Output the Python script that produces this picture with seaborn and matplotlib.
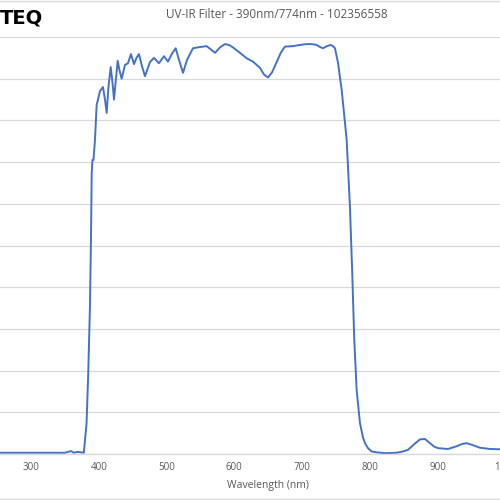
import matplotlib
matplotlib.use("Agg")
import matplotlib.pyplot as plt
import seaborn as sns
import pandas as pd

# transmission curve
wavelength = [200, 254, 313, 350, 359, 363, 369, 374, 378, 382, 384.5, 387, 388.5, 389.6,
              390.7, 392.2, 394.4, 396.9, 401.8, 406.2, 409.2, 411.7, 414.3, 417.6, 420.3,
              422.5, 425.4, 427.9, 430.6, 433.8, 438.7, 443.1, 447.5, 452, 455.7, 459.3,
              463.8, 468.2, 475.6, 481.5, 488.8, 496.2, 502.1, 508, 513.5, 518.4, 524.3,
              530.2, 539, 549.3, 559.2, 565.6, 571.5, 578.8, 586.2, 592.1, 598, 608.4,
              618.2, 627.5, 637.9, 643.8, 649.7, 655.6, 662.5, 668.8, 674.7, 686.5, 696.9,
              706.8, 714.6, 721.5, 726.4, 730.8, 736.7, 742.2, 745.6, 748.5, 753, 758.4,
              763.3, 765.8, 770.6, 774, 777, 780.5, 785.4, 789.8, 792.8, 797.2, 802.7, 810,
              822.3, 839.5, 848.8, 856.2, 866.5, 873.9, 881.3, 888.7, 894.6, 900.5, 915.2,
              927, 935.9, 942.8, 950.6, 962.4, 977.2, 999.3, 1050, 1100]
transmission = [0.3, 0.3, 0.3, 0.3, 0.7, 0.3, 0.5, 0.4, 0.3, 7.4, 19.4, 35.3, 51.3, 67.4,
                70.5, 70.5, 75.3, 83.7, 87, 88, 85, 81.8, 88, 92.8, 89,
                85, 90, 94.3, 92, 90, 93.3, 93.7, 95.9, 93.5, 95, 95.9,
                93, 90.6, 94, 95, 93.7, 95.4, 94.1, 96, 97.3, 94.5, 91.4,
                94.5, 97.3, 97.6, 97.8, 97, 96.2, 97.5, 98.3, 98.1, 97.5, 96.2,
                94.9, 94.1, 92.6, 91, 90.3, 91.5, 94, 96.3, 97.7, 97.8, 98.1,
                98.3, 98.3, 98.1, 97.6, 97.3, 97.8, 98.1, 97.8, 97.3, 93.8, 87.3,
                79.4, 75.3, 59.3, 43.4, 27.3, 15.3, 7.4, 4, 2.6, 1.4, 0.6, 0.4,
                0.2, 0.3, 0.6, 1, 2.5, 3.5, 3.6, 2.6, 1.8, 1.4, 1.2,
                1.8, 2.4, 2.6, 2.2, 1.5, 1.2, 1.1, 1.0, 1.0]
x_ticks = [300, 400, 500, 600, 700, 800, 900, 1000]
y_ticks = [0, 10, 20, 30, 40, 50, 60, 70, 80, 90, 100]
title = "UV-IR Filter - 390nm/774nm - 102356558"

df = pd.DataFrame({"Wavelength": wavelength, "Transmission": transmission})

sns.set_style("white")
plt.rcParams["font.family"] = ["Open Sans", "DejaVu Sans"]

fig = plt.figure(figsize=(5, 5), dpi=100)
# chart is cropped: the plot area runs past both sides of the picture
ax = fig.add_axes([-0.0736, 0.092, 1.22, 0.834])

sns.lineplot(data=df, x="Wavelength", y="Transmission", ax=ax,
             color="#4472C4", linewidth=1.4)

ax.set_xlim(200, 1100)
ax.set_ylim(0, 100)
ax.set_xticks(x_ticks)
ax.set_yticks(y_ticks)
ax.set_yticklabels([])  # y labels fall outside the cropped picture
ax.yaxis.grid(True, color="#d9d9d9", linewidth=0.9)
ax.set_axisbelow(True)
for s in ["top", "left", "right"]:
    ax.spines[s].set_visible(False)
ax.spines["bottom"].set_color("#d9d9d9")
ax.spines["bottom"].set_linewidth(1.0)
ax.tick_params(axis="x", length=0, pad=6, labelsize=7, labelcolor="#595959")
ax.tick_params(axis="y", length=0)
ax.set_xlabel("Wavelength (nm)", fontsize=7.5, color="#595959", labelpad=5)
ax.set_ylabel("")

fig.text(0.554, 0.97, title, ha="center", va="center", fontsize=8.5, color="#595959")
fig.text(0.0, 0.965, "TEQ", ha="left", va="center", fontsize=14,
         fontweight="heavy", color="black", family="DejaVu Sans")

# thin frame lines at the top and bottom of the picture
fig.add_artist(plt.Line2D([0, 1], [0.999, 0.999], color="#d9d9d9", linewidth=1.0))
fig.add_artist(plt.Line2D([0, 1], [0.003, 0.003], color="#d9d9d9", linewidth=1.0))

fig.savefig("out.png", dpi=100)
